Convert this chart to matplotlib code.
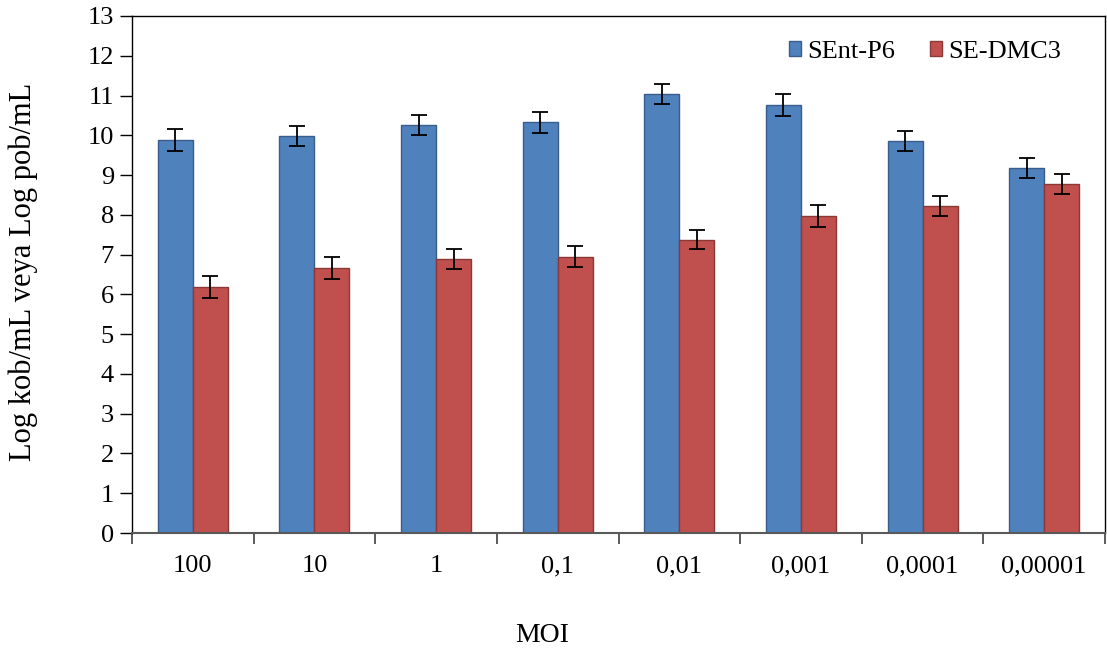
import matplotlib
matplotlib.use("Agg")
import matplotlib.pyplot as plt
import numpy as np

categories = ["100", "10", "1", "0,1", "0,01", "0,001", "0,0001", "0,00001"]
sent_p6 = [9.89, 9.98, 10.26, 10.33, 11.04, 10.76, 9.86, 9.17]
se_dmc3 = [6.19, 6.66, 6.89, 6.95, 7.38, 7.98, 8.23, 8.77]
sent_err = [0.28, 0.26, 0.26, 0.26, 0.26, 0.28, 0.26, 0.25]
dmc3_err = [0.27, 0.27, 0.25, 0.27, 0.25, 0.28, 0.25, 0.25]
series_names = ["SEnt-P6", "SE-DMC3"]

plt.rcParams['font.family'] = ['Liberation Serif', 'DejaVu Serif']

fig = plt.figure(figsize=(11.07, 6.55), dpi=100)
ax = fig.add_axes([132/1107, 1 - 533/655, (1105-132)/1107, (533-16)/655])

x = np.arange(len(categories))
w = 0.288
ax.bar(x - w/2, sent_p6, w, color="#4F81BD", edgecolor="#385D8A", linewidth=1.0,
       yerr=sent_err, capsize=6, error_kw=dict(ecolor="black", elinewidth=1.3, capthick=1.3),
       label=series_names[0], zorder=2)
ax.bar(x + w/2, se_dmc3, w, color="#C0504D", edgecolor="#8C3836", linewidth=1.0,
       yerr=dmc3_err, capsize=6, error_kw=dict(ecolor="black", elinewidth=1.3, capthick=1.3),
       label=series_names[1], zorder=2)

ax.set_xlim(-0.5, len(categories) - 0.5)
ax.set_ylim(0, 13)
ax.set_yticks(range(0, 14))
ax.tick_params(axis='y', direction='out', length=9, width=1, labelsize=19, pad=4)
ax.set_xticks(x)
ax.set_xticklabels(categories, fontsize=19)
ax.tick_params(axis='x', length=0, pad=16)
ax.set_xticks(np.arange(-0.5, len(categories), 1.0), minor=True)
ax.tick_params(axis='x', which='minor', direction='out', length=8, width=1.2, color='#404040')

for s in ['left', 'top', 'right']:
    ax.spines[s].set_color('black')
    ax.spines[s].set_linewidth(1.0)
ax.spines['bottom'].set_color('#595959')
ax.spines['bottom'].set_linewidth(1.5)

fig.text(23/1107, 1 - 272/655, "Log kob/mL veya Log pob/mL", fontsize=22,
         rotation=90, ha='center', va='center')
fig.text(542/1107, 1 - 636/655, "MOI", fontsize=20, ha='center', va='center')

leg = ax.legend(loc='center right', bbox_to_anchor=(1061/1107, 1 - 52/655),
                bbox_transform=fig.transFigure, ncol=2, frameon=False,
                fontsize=19, handlelength=0.45, handleheight=0.5, handletextpad=0.25,
                columnspacing=1.3, borderaxespad=0, borderpad=0)

fig.savefig("out.png", dpi=100)
